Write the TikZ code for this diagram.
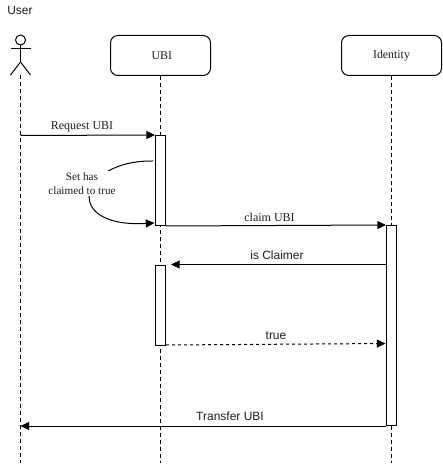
\documentclass[tikz,border=0pt]{standalone}
\usepackage{fontspec}
\setmainfont{Liberation Serif}
\newfontfamily\arialfont{Liberation Sans}
\usepackage{xcolor}
\usetikzlibrary{arrows.meta,positioning,calc}
\definecolor{ink}{RGB}{0,0,0}
\definecolor{txt}{RGB}{30,30,30}
\tikzset{
  obj/.style={draw=ink,rounded corners=5.5pt,fill=white,minimum width=75pt,minimum height=30pt,inner sep=0pt,font=\fontsize{8.9}{10}\selectfont,text=txt},
  act/.style={draw=ink,fill=white,minimum width=7.5pt,inner sep=0pt,line width=.75pt},
  life/.style={draw=ink,dashed,dash pattern=on 3pt off 2.25pt,line width=.75pt},
  arr/.style={-{Triangle[length=6.5pt,width=6pt]},line width=.75pt,ink},
  ret/.style={arr,dash pattern=on 2.25pt off 2.25pt},
  sanslab/.style={font=\arialfont\fontsize{9}{11}\selectfont,text=txt,inner sep=0pt},
  seriflab/.style={font=\fontsize{9}{11}\selectfont,text=txt,inner sep=0pt},
  notelab/.style={font=\fontsize{8.4}{10.5}\selectfont,text=txt,align=center,fill=white,inner sep=1.5pt},
}
\begin{document}
\begin{tikzpicture}[x=.75pt,y=-.75pt,line width=.75pt]
  \useasboundingbox (0,0) rectangle (442,466);
  % participants
  \node[sanslab] (userlab) at (20,10) {User};
  \node[draw=ink,circle,minimum size=7.5pt,inner sep=0pt] (head) at (20.5,40) {};
  \coordinate (neck) at (20.5,62);
  \coordinate (userfoot) at (20.5,75);
  \node[obj,text depth=0pt] (ubi) at (160.5,55.5) {\hspace{2pt}UBI};
  \node[obj] (identity) at (391.5,55.5) {Identity};
  \draw (head.south) -- (neck);
  \draw ($(head.south)+(-10,3)$) -- ($(head.south)+(10,3)$);
  \draw (neck) -- +(-10,13);
  \draw (neck) -- +(10,13);
  % lifelines
  \draw[life] (userfoot) -- (20.5,463);
  \draw[life] (ubi.south) -- (160.5,463);
  \draw[life] (identity.south) -- (391.5,463);
  % activations
  \node[act,minimum height=67.5pt] (ubia) at (160.5,180.5) {};
  \node[act,minimum height=60pt] (ubib) at (160.5,305.5) {};
  \node[act,minimum height=150pt] (ida) at (391.5,325.5) {};
  % messages
  \coordinate (userreq) at (20.5,135.5);
  \coordinate (usertr) at (20.5,426);
  \coordinate (isend) at (171,264.5);
  \draw[arr] (userreq) -- (ubia.north west);
  \draw[arr] (ubia.south east) -- (ida.north west);
  \draw[arr] (ida.west |- isend) -- (isend);
  \draw[ret] (ubib.south east)+(0,-1) -- ($(ida.west |- ubib.south)+(-.5,-2.5)$);
  \draw[arr] (ida.south west) -- (usertr);
  % self call
  \coordinate (selfa) at (153,161);
  \coordinate (selfb) at (154.5,223);
  \draw[arr] (selfa) .. controls (78,160) and (61,228) .. (selfb);
  \node[notelab] (selflab) at (82,183.5) {Set has\\claimed to true};
  % labels
  \node[seriflab] (reqlab) at (82,127) {Request UBI};
  \node[seriflab] (claimlab) at (269.5,217) {claim UBI};
  \node[sanslab] (islab) at (277,255) {is Claimer};
  \node[sanslab] (truelab) at (276,335.5) {true};
  \node[sanslab] (trlab) at (230,416) {Transfer UBI};
\end{tikzpicture}
\end{document}
